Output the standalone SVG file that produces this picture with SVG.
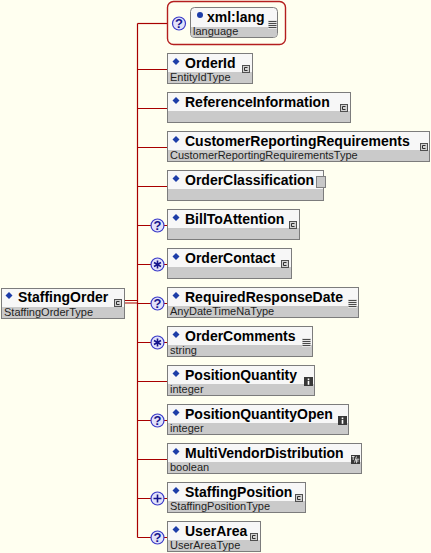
<svg xmlns="http://www.w3.org/2000/svg" xmlns:xlink="http://www.w3.org/1999/xlink" width="431" height="553" viewBox="0 0 431 553">
<style>
.bg{fill:#fffff0}
.box{fill:#f7f7f7;stroke:#7c7c7c;stroke-width:1}
.band{fill:#cacaca}
.name{font-family:"Liberation Sans",Arial,sans-serif;font-weight:bold;font-size:14px;fill:#000}
.type{font-family:"Liberation Sans",Arial,sans-serif;font-size:11px;fill:#1e1e1e}
.dia{fill:#1c3ca8}
.card{fill:#e2e2fa;stroke:#3a3ac8;stroke-width:1.2}
.q{font-family:"Liberation Sans",Arial,sans-serif;font-weight:bold;font-size:13px;fill:#14148c;text-anchor:middle}
.sym{stroke:#14148c;stroke-width:1.6;fill:none}
.conn{stroke:#a80000;stroke-width:1.2;fill:none}
.attr{fill:none;stroke:#b41e1e;stroke-width:1.4}
</style>
<defs>
<g id="icC">
<rect x="0.5" y="0.5" width="7" height="7" fill="#d2d2d2" stroke="#505050"/>
<path d="M5.5,2.5H2.5V5.5H5.5" stroke="#303030" fill="none"/>
</g>
<g id="icL">
<rect x="0" y="0" width="9" height="9" fill="#e6e6e6"/>
<path d="M0.5,1.5H8.5M0.5,3.5H8.5M0.5,5.5H8.5M0.5,7.5H8.5" stroke="#4a4a4a" stroke-width="1"/>
</g>
<g id="icI">
<rect x="0" y="0" width="9" height="9" fill="#383838"/>
<rect x="3.7" y="1.5" width="1.6" height="1.5" fill="#fff"/>
<rect x="3.7" y="3.8" width="1.6" height="4" fill="#fff"/>
</g>
<g id="icTF">
<rect x="0" y="0" width="9" height="9" fill="#383838"/>
<path d="M0.8,1.5H3.6M2.2,1.5V5M3.5,7.5L5.5,1.5M5.6,4.2V8.2M5.6,4.2H8.3M5.6,6H7.6" stroke="#fff" stroke-width="0.8" fill="none"/>
</g>
<path id="dia" class="dia" d="M0,-3.6L3.5,0L0,3.6L-3.5,0Z"/>
</defs>
<rect class="bg" x="0" y="0" width="431" height="553"/>

<g id="connectors">
<path class="conn" d="M125,300.5H137.5M125,303H137.5"/>
<path class="conn" d="M137.5,23.5V537.5"/>
<path class="conn" d="M137.5,23.5H167"/>
<path class="conn" d="M137.5,69.5H167M137.5,108.5H167M137.5,147.5H167M137.5,186.5H167M137.5,225.5H167M137.5,264.5H167M137.5,303.5H167M137.5,342.5H167M137.5,381.5H167M137.5,420.5H167M137.5,459.5H167M137.5,498.5H167M137.5,537.5H167"/>
</g>

<g id="StaffingOrder">
<rect class="box" x="1.5" y="288.5" width="123" height="30"/>
<rect class="band" x="2" y="307" width="122" height="11"/>
<use xlink:href="#dia" x="9" y="295.5"/>
<text class="name" x="18" y="302">StaffingOrder</text>
<text class="type" x="4" y="316">StaffingOrderType</text>
<use xlink:href="#icC" x="114" y="299"/>
</g>

<g id="xml_lang">
<rect class="attr" x="167.5" y="1.5" width="118" height="43" rx="6"/>
<circle class="card" cx="179" cy="23.5" r="6.5"/>
<text class="q" x="179" y="28">?</text>
<rect class="box" x="190.5" y="7.5" width="87" height="30" rx="4"/>
<path class="band" d="M191,27H277V33.5Q277,37 273.5,37H194.5Q191,37 191,33.5Z"/>
<circle cx="200" cy="15" r="3" fill="#1c3ca8"/>
<text class="name" x="207" y="21.5">xml:lang</text>
<text class="type" x="193" y="35">language</text>
<use xlink:href="#icL" x="268" y="20"/>
</g>

<g id="OrderId">
<rect class="box" x="167.5" y="53.5" width="85" height="30"/>
<rect class="band" x="168" y="72" width="84" height="11"/>
<use xlink:href="#dia" x="176" y="61.5"/>
<text class="name" x="185" y="67.5">OrderId</text>
<text class="type" x="170" y="81">EntityIdType</text>
<use xlink:href="#icC" x="242" y="65"/>
</g>

<g id="ReferenceInformation">
<rect class="box" x="167.5" y="92.5" width="183" height="30"/>
<rect class="band" x="168" y="111" width="182" height="11"/>
<use xlink:href="#dia" x="176" y="100.5"/>
<text class="name" x="185" y="106.5">ReferenceInformation</text>
<use xlink:href="#icC" x="340" y="104"/>
</g>

<g id="CustomerReportingRequirements">
<rect class="box" x="167.5" y="131.5" width="262" height="30"/>
<rect class="band" x="168" y="150" width="261" height="11"/>
<use xlink:href="#dia" x="176" y="139.5"/>
<text class="name" x="185" y="145.5">CustomerReportingRequirements</text>
<text class="type" x="170" y="159">CustomerReportingRequirementsType</text>
<use xlink:href="#icC" x="420" y="143"/>
</g>

<g id="OrderClassification">
<rect class="box" x="167.5" y="170.5" width="156" height="30"/>
<rect class="band" x="168" y="189" width="155" height="11"/>
<use xlink:href="#dia" x="176" y="178.5"/>
<text class="name" x="185" y="184.5">OrderClassification</text>
<rect x="316.5" y="176.5" width="9" height="11" fill="#c8c8c8" stroke="#808080"/>
</g>

<g id="BillToAttention">
<circle class="card" cx="157.5" cy="225.5" r="6.5"/>
<text class="q" x="157.5" y="230">?</text>
<rect class="box" x="167.5" y="209.5" width="132" height="30"/>
<rect class="band" x="168" y="228" width="131" height="11"/>
<use xlink:href="#dia" x="176" y="217.5"/>
<text class="name" x="185" y="223.5">BillToAttention</text>
<use xlink:href="#icC" x="289" y="221"/>
</g>

<g id="OrderContact">
<circle class="card" cx="157.5" cy="264.5" r="6.5"/>
<path class="sym" d="M157.5,260.5V268.5M154,262.5L161,266.5M154,266.5L161,262.5"/>
<rect class="box" x="167.5" y="248.5" width="124" height="30"/>
<rect class="band" x="168" y="267" width="123" height="11"/>
<use xlink:href="#dia" x="176" y="256.5"/>
<text class="name" x="185" y="262.5">OrderContact</text>
<use xlink:href="#icC" x="281" y="260"/>
</g>

<g id="RequiredResponseDate">
<circle class="card" cx="157.5" cy="303.5" r="6.5"/>
<text class="q" x="157.5" y="308">?</text>
<rect class="box" x="167.5" y="287.5" width="191" height="30"/>
<rect class="band" x="168" y="306" width="190" height="11"/>
<use xlink:href="#dia" x="176" y="295.5"/>
<text class="name" x="185" y="301.5">RequiredResponseDate</text>
<text class="type" x="170" y="315">AnyDateTimeNaType</text>
<use xlink:href="#icL" x="348" y="299"/>
</g>

<g id="OrderComments">
<circle class="card" cx="157.5" cy="342.5" r="6.5"/>
<path class="sym" d="M157.5,338.5V346.5M154,340.5L161,344.5M154,344.5L161,340.5"/>
<rect class="box" x="167.5" y="326.5" width="145" height="30"/>
<rect class="band" x="168" y="345" width="144" height="11"/>
<use xlink:href="#dia" x="176" y="334.5"/>
<text class="name" x="185" y="340.5">OrderComments</text>
<text class="type" x="170" y="354">string</text>
<use xlink:href="#icL" x="302" y="338"/>
</g>

<g id="PositionQuantity">
<rect class="box" x="167.5" y="365.5" width="147" height="30"/>
<rect class="band" x="168" y="384" width="146" height="11"/>
<use xlink:href="#dia" x="176" y="373.5"/>
<text class="name" x="185" y="379.5">PositionQuantity</text>
<text class="type" x="170" y="393">integer</text>
<use xlink:href="#icI" x="304" y="377"/>
</g>

<g id="PositionQuantityOpen">
<circle class="card" cx="157.5" cy="420.5" r="6.5"/>
<text class="q" x="157.5" y="425">?</text>
<rect class="box" x="167.5" y="404.5" width="181" height="30"/>
<rect class="band" x="168" y="423" width="180" height="11"/>
<use xlink:href="#dia" x="176" y="412.5"/>
<text class="name" x="185" y="418.5">PositionQuantityOpen</text>
<text class="type" x="170" y="432">integer</text>
<use xlink:href="#icI" x="338" y="416"/>
</g>

<g id="MultiVendorDistribution">
<rect class="box" x="167.5" y="443.5" width="194" height="30"/>
<rect class="band" x="168" y="462" width="193" height="11"/>
<use xlink:href="#dia" x="176" y="451.5"/>
<text class="name" x="185" y="457.5">MultiVendorDistribution</text>
<text class="type" x="170" y="471">boolean</text>
<use xlink:href="#icTF" x="351" y="455"/>
</g>

<g id="StaffingPosition">
<circle class="card" cx="157.5" cy="498.5" r="6.5"/>
<path class="sym" d="M153.5,498.5H161.5M157.5,494.5V502.5"/>
<rect class="box" x="167.5" y="482.5" width="138" height="30"/>
<rect class="band" x="168" y="501" width="137" height="11"/>
<use xlink:href="#dia" x="176" y="490.5"/>
<text class="name" x="185" y="496.5">StaffingPosition</text>
<text class="type" x="170" y="510">StaffingPositionType</text>
<use xlink:href="#icC" x="295" y="494"/>
</g>

<g id="UserArea">
<circle class="card" cx="157.5" cy="537.5" r="6.5"/>
<text class="q" x="157.5" y="542">?</text>
<rect class="box" x="167.5" y="521.5" width="93" height="30"/>
<rect class="band" x="168" y="540" width="92" height="11"/>
<use xlink:href="#dia" x="176" y="529.5"/>
<text class="name" x="185" y="535.5">UserArea</text>
<text class="type" x="170" y="549">UserAreaType</text>
<use xlink:href="#icC" x="250" y="533"/>
</g>
</svg>
